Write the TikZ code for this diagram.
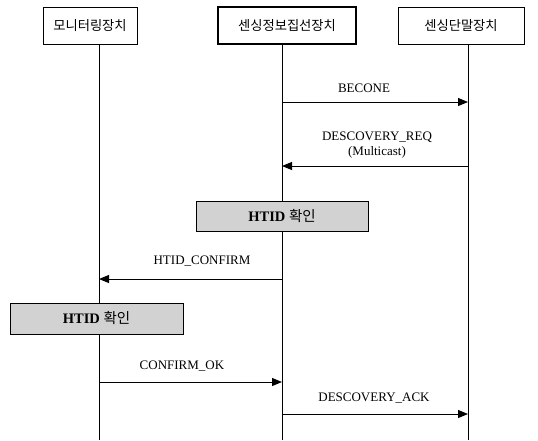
\documentclass[tikz,border=0pt]{standalone}
\usepackage{fontspec}
\setmainfont{Liberation Serif}
\newfontfamily\kr{Noto Sans CJK KR}
\usetikzlibrary{arrows.meta}
\begin{document}
\begin{tikzpicture}[x=1pt,y=-1pt,
  hdr/.style={draw,line width=0.9pt,minimum height=37pt,inner sep=0pt,font=\kr\fontsize{13.3}{15}\selectfont},
  life/.style={line width=0.8pt},
  msg/.style={line width=1pt,-{Triangle[length=10pt,width=8pt]}},
  lbl/.style={inner sep=0pt,font=\fontsize{13}{14.5}\selectfont,align=center},
  chk/.style={draw,line width=0.9pt,fill=gray!35,minimum width=172pt,minimum height=30pt,inner sep=0pt,font=\fontsize{14.5}{16}\selectfont}]
\useasboundingbox (0,0) rectangle (538,440);
% header boxes
\node[hdr,minimum width=94pt] (m) at (90,25.5) {모니터링장치};
\node[hdr,minimum width=138pt,line width=1.3pt] (g) at (287,25.5) {센싱정보집선장치};
\node[hdr,minimum width=126pt] (t) at (461,25.5) {센싱단말장치};
% lifelines
\coordinate (l1) at (99,440);
\coordinate (l2) at (282,440);
\coordinate (l3) at (468,440);
\draw[life] (m.south -| l1) -- (l1);
\draw[life] (g.south -| l2) -- (l2);
\draw[life] (t.south -| l3) -- (l3);
% message endpoints
\coordinate (a1s) at (282,102); \coordinate (a1e) at (468,102);
\coordinate (a2s) at (468,166); \coordinate (a2e) at (282,166);
\coordinate (a3s) at (282,279); \coordinate (a3e) at (99,279);
\coordinate (a4s) at (99,382);  \coordinate (a4e) at (282,382);
\coordinate (a5s) at (282,414); \coordinate (a5e) at (468,414);
\draw[msg] (a1s) -- (a1e);
\draw[msg] (a2s) -- (a2e);
\draw[msg] (a3s) -- (a3e);
\draw[msg] (a4s) -- (a4e);
\draw[msg] (a5s) -- (a5e);
% labels
\node[lbl] (t1) at (364,88) {BECONE};
\node[lbl] (t2) at (377,145) {DESCOVERY\_REQ\\(Multicast)};
\node[lbl] (t3) at (202,261) {HTID\_CONFIRM};
\node[lbl] (t4) at (182,366) {CONFIRM\_OK};
\node[lbl] (t5) at (374,398) {DESCOVERY\_ACK};
% check boxes
\node[chk] (c1) at (282,216) {\textbf{HTID} {\kr 확인}};
\node[chk,minimum width=173pt,minimum height=31pt] (c2) at (96.5,318.5) {\textbf{HTID} {\kr 확인}};
\end{tikzpicture}
\end{document}
